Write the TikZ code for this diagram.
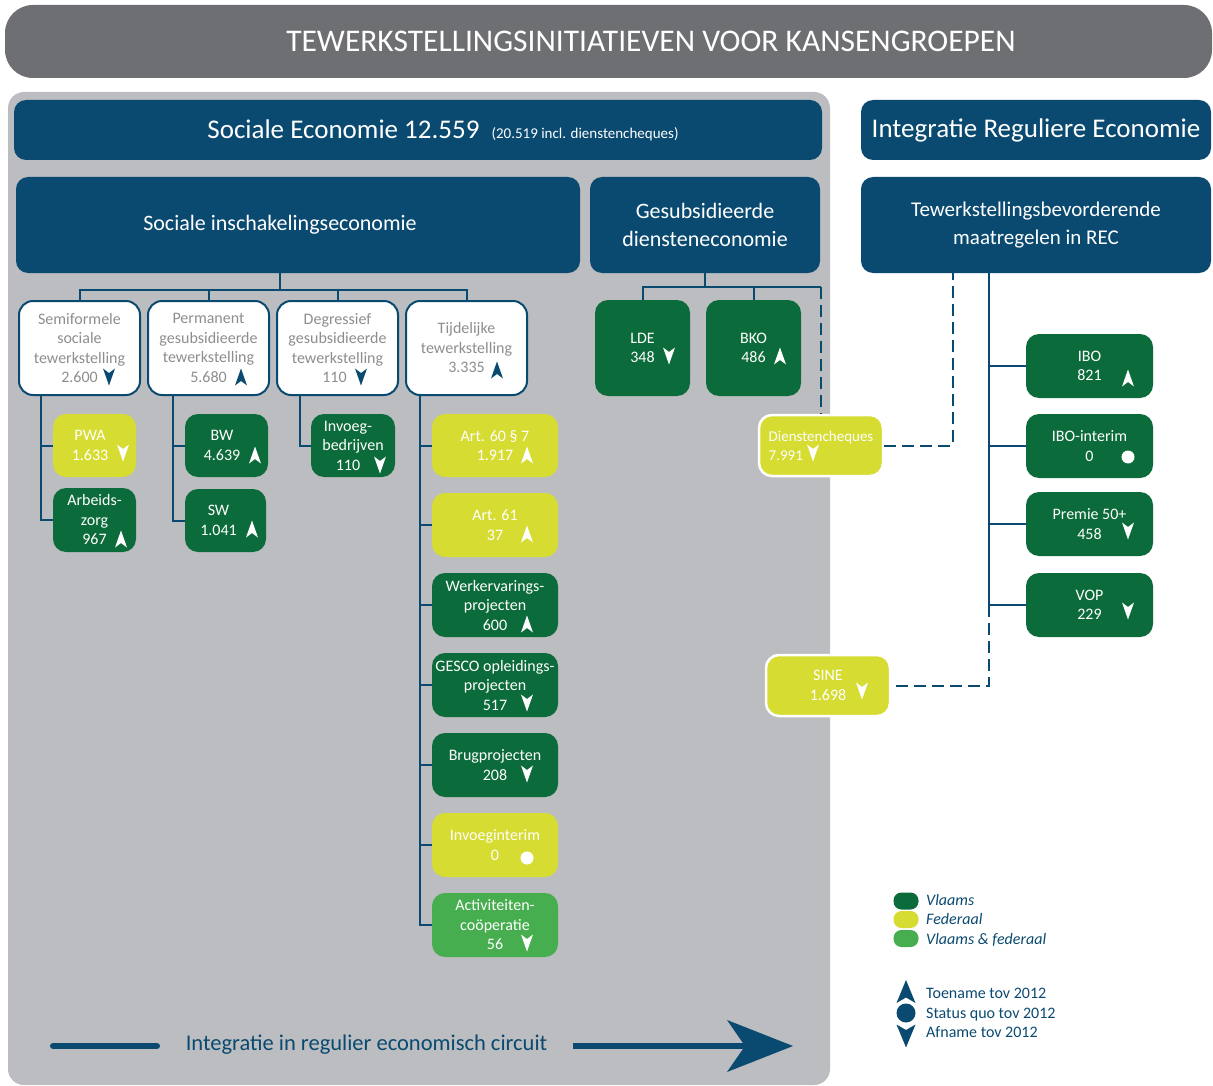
\documentclass[tikz,border=0pt]{standalone}
\usepackage{fontspec}
\setmainfont{Carlito}
\definecolor{dblue}{HTML}{0A4A70}
\definecolor{bgray}{HTML}{6E6F72}
\definecolor{pgray}{HTML}{BCBDC0}
\definecolor{dgreen}{HTML}{0C6B3A}
\definecolor{yel}{HTML}{D6DC32}
\definecolor{lgreen}{HTML}{46AE4E}
\definecolor{tgray}{HTML}{8E8E8E}
\newcommand\fs[2]{\fontsize{#1}{#2}\selectfont}
\tikzset{
 hdr/.style={fill=dblue, rounded corners=12pt, text=white, inner sep=2pt, align=center},
 wbox/.style={draw=dblue, line width=2pt, fill=white, rounded corners=14pt, text=tgray, align=center, inner sep=2pt, font=\fs{16}{19.5}},
 cbox/.style={rounded corners=13pt, text=white, align=center, inner sep=2pt, font=\fs{16}{19.5}},
 gbox/.style={cbox, fill=dgreen},
 ybox/.style={cbox, fill=yel},
 lbox/.style={cbox, fill=lgreen},
 wedge/.style={draw=white, line width=2.5pt},
 conn/.style={draw=dblue, line width=2pt},
 dconn/.style={conn, dash pattern=on 12pt off 6pt},
 pill/.style={rounded corners=8pt, minimum width=25pt, minimum height=17pt, inner sep=0pt},
 legtxt/.style={anchor=base west, inner sep=0pt, text=dblue, font=\fs{16}{19}},
}
\newcommand\bx[7]{\node[#1, minimum width={#5-#3}, minimum height={#6-#4}] (#2) at ({(#3+#5)/2},{(#4+#6)/2}) {#7};}
\newcommand\uar[3]{\fill[#1] (#2,#3) +(0,-8.5) -- +(6,8.5) -- +(0,4) -- +(-6,8.5) -- cycle;}
\newcommand\dar[3]{\fill[#1] (#2,#3) +(0,8.5) -- +(6,-8.5) -- +(0,-4) -- +(-6,-8.5) -- cycle;}
\newcommand\sqm[3]{\fill[#1] (#2,#3) circle[radius=6.5pt];}
\begin{document}
\begin{tikzpicture}[x=1pt,y=-1pt]
\useasboundingbox (0,0) rectangle (1213,1086);
% banner and panel
\bx{fill=bgray, rounded corners=28pt, text=white, inner sep=0pt, font=\fs{31.5}{36}}{banner}{5}{5}{1212}{78}{\hspace*{85pt}TEWERKSTELLINGSINITIATIEVEN VOOR KANSENGROEPEN}
\bx{fill=pgray, rounded corners=16pt}{panel}{8}{92}{830}{1085}{}
% headers
\bx{hdr, font=\fs{27}{32}}{se}{14}{100}{822}{160}{\hspace*{50pt}Sociale Economie 12.559\hspace{12pt}{\fs{15}{18}(20.519 incl. dienstencheques)}}
\bx{hdr, font=\fs{27}{32}}{ire}{861}{100}{1211}{160}{Integratie Reguliere Economie}
\bx{hdr, font=\fs{22}{27}}{sie}{16}{177}{580}{273}{Sociale inschakelingseconomie\hspace*{36pt}}
\bx{hdr, font=\fs{22}{27.5}}{gde}{590}{177}{820}{273}{Gesubsidieerde\\diensteneconomie}
\bx{hdr, font=\fs{21}{28}}{rec}{861}{177}{1211}{273}{Tewerkstellingsbevorderende\\maatregelen in REC}
% white boxes
\bx{wbox}{semi}{19}{301}{140}{395}{Semiformele\\sociale\\tewerkstelling\\2.600}
\bx{wbox}{perm}{148}{301}{269}{395}{Permanent\\gesubsidieerde\\tewerkstelling\\5.680}
\bx{wbox}{degr}{277}{301}{398}{395}{Degressief\\gesubsidieerde\\tewerkstelling\\110\hspace*{6pt}}
\bx{wbox}{tijd}{406}{301}{527}{395}{Tijdelijke\\tewerkstelling\\3.335}
% coloured boxes
\bx{ybox}{pwa}{53}{414}{136}{477}{PWA\hspace*{9pt}\\1.633\hspace*{9pt}}
\bx{gbox}{arb}{53}{488}{136}{552}{Arbeids-\\zorg\\967}
\bx{gbox}{bw}{185}{414}{268}{477}{BW\hspace*{9pt}\\4.639\hspace*{9pt}}
\bx{gbox}{sw}{185}{489}{266}{552}{SW\hspace*{14pt}\\1.041\hspace*{14pt}}
\bx{gbox}{inv}{311}{414}{395}{477}{Invoeg-\hspace*{10pt}\\bedrijven\hspace*{10pt}\\110\hspace*{10pt}}
\bx{ybox}{a60}{432}{414}{558}{477}{Art. 60 § 7\\1.917}
\bx{ybox}{a61}{432}{493}{558}{557}{Art. 61\\37}
\bx{gbox}{wep}{432}{573}{558}{637}{Werkervarings-\\projecten\\600}
\bx{gbox}{gesco}{432}{653}{558}{717}{GESCO opleidings-\\projecten\\517}
\bx{gbox}{brug}{432}{733}{558}{797}{Brugprojecten\\208}
\bx{ybox}{invi}{432}{813}{558}{877}{Invoeginterim\\0}
\bx{lbox}{act}{432}{893}{558}{957}{Activiteiten-\\coöperatie\\56}
\bx{gbox}{lde}{595}{300}{690}{396}{LDE\\348}
\bx{gbox}{bko}{706}{300}{801}{396}{BKO\\486}
\bx{ybox, wedge, align=left, font=\fs{15}{19}}{dc}{759}{415}{883}{476}{Dienstencheques\\7.991}
\bx{ybox, wedge}{sine}{766}{655}{890}{716}{SINE\\1.698}
\bx{gbox}{ibo}{1026}{334}{1153}{398}{IBO\\821}
\bx{gbox}{iboi}{1026}{414}{1153}{478}{IBO-interim\\0}
\bx{gbox}{p50}{1026}{492}{1153}{556}{Premie 50+\\458}
\bx{gbox}{vop}{1026}{573}{1153}{637}{VOP\\229}
% connectors: sociale inschakelingseconomie
\coordinate (j1) at (280,290);
\draw[conn] (sie.south -| j1) -- (j1);
\draw[conn] (semi.north) |- (j1) -| (tijd.north);
\draw[conn] (perm.north) -- (perm.north |- j1);
\draw[conn] (degr.north) -- (degr.north |- j1);
\coordinate (semiT) at ([xshift=23pt]semi.south west);
\draw[conn] (semiT) |- (arb.west);
\draw[conn] (semiT |- pwa.west) -- (pwa.west);
\coordinate (permT) at ([xshift=26pt]perm.south west);
\draw[conn] (permT) |- (sw.west);
\draw[conn] (permT |- bw.west) -- (bw.west);
\coordinate (degrT) at ([xshift=24pt]degr.south west);
\draw[conn] (degrT) |- (inv.west);
\coordinate (tijdT) at ([xshift=15pt]tijd.south west);
\draw[conn] (tijdT) |- (act.west);
\foreach \n in {a60,a61,wep,gesco,brug,invi} \draw[conn] (tijdT |- \n.west) -- (\n.west);
% connectors: diensteneconomie
\coordinate (j2) at (705,287);
\draw[conn] (gde.south) -- (gde.south |- j2);
\draw[conn] (lde.north) |- (j2) -| (bko.north);
\draw[conn] (bko.north |- j2) -- (dc.north |- j2);
\draw[dconn] (dc.north |- j2) -- (dc.north);
\draw[dconn] (dc.east) -| ([xshift=-83pt]rec.south);
% connectors: REC
\coordinate (recS) at ([xshift=-47pt]rec.south);
\draw[conn] (recS) |- (vop.west);
\foreach \n in {ibo,iboi,p50} \draw[conn] (recS |- \n.west) -- (\n.west);
\draw[dconn] (recS |- vop.west) |- (sine.east);
% trend marks
\dar{dblue}{109}{377}
\uar{dblue}{241}{377}
\dar{dblue}{361}{377}
\uar{dblue}{497}{370}
\dar{white}{123}{453}
\uar{white}{121}{539}
\uar{white}{255}{455}
\uar{white}{252}{529}
\dar{white}{380}{465}
\uar{white}{527}{455}
\uar{white}{527}{534}
\uar{white}{527}{624}
\dar{white}{527}{703}
\dar{white}{527}{774}
\sqm{white}{527}{858}
\dar{white}{527}{943}
\dar{white}{669}{356}
\uar{white}{780}{356}
\dar{white}{813}{453}
\uar{white}{1128}{378}
\sqm{white}{1128}{457}
\dar{white}{1128}{531}
\dar{white}{1128}{611}
\dar{white}{862}{691}
% legend
\node[pill, fill=dgreen] (lg1) at (906,901) {};
\node[pill, fill=yel] (lg2) at (906,919.5) {};
\node[pill, fill=lgreen] (lg3) at (906,938.5) {};
\node[legtxt, font=\fs{16}{19}\itshape] (lt1) at (926,905) {Vlaams};
\node[legtxt, font=\fs{16}{19}\itshape] (lt2) at (926,924) {Federaal};
\node[legtxt, font=\fs{16}{19}\itshape] (lt3) at (926,944) {Vlaams \& federaal};
\fill[dblue] (906,991.5) +(0,-11.5) -- +(9.5,11.5) -- +(0,6) -- +(-9.5,11.5) -- cycle;
\fill[dblue] (906,1013) circle[radius=9.5pt];
\fill[dblue] (906,1036) +(0,11.5) -- +(9.5,-11.5) -- +(0,-6) -- +(-9.5,-11.5) -- cycle;
\node[legtxt] (lt4) at (926,998) {Toename tov 2012};
\node[legtxt] (lt5) at (926,1018) {Status quo tov 2012};
\node[legtxt] (lt6) at (926,1037) {Afname tov 2012};
% bottom arrow
\node[text=dblue, font=\fs{22.5}{27}, inner sep=0pt] (circ) at (366.5,1045) {Integratie in regulier economisch circuit};
\coordinate (c0) at (53,1046);
\coordinate (c1) at (157,1046);
\coordinate (c2) at (573,1046);
\coordinate (c3) at (748,1046);
\coordinate (tip) at (793,1046);
\draw[dblue, line width=6pt, line cap=round] (c0) -- (c1);
\draw[dblue, line width=6pt] (c2) -- (c3);
\fill[dblue] (tip) -- ++(-66,-26) -- ++(18,26) -- ++(-18,26) -- cycle;
\end{tikzpicture}
\end{document}
